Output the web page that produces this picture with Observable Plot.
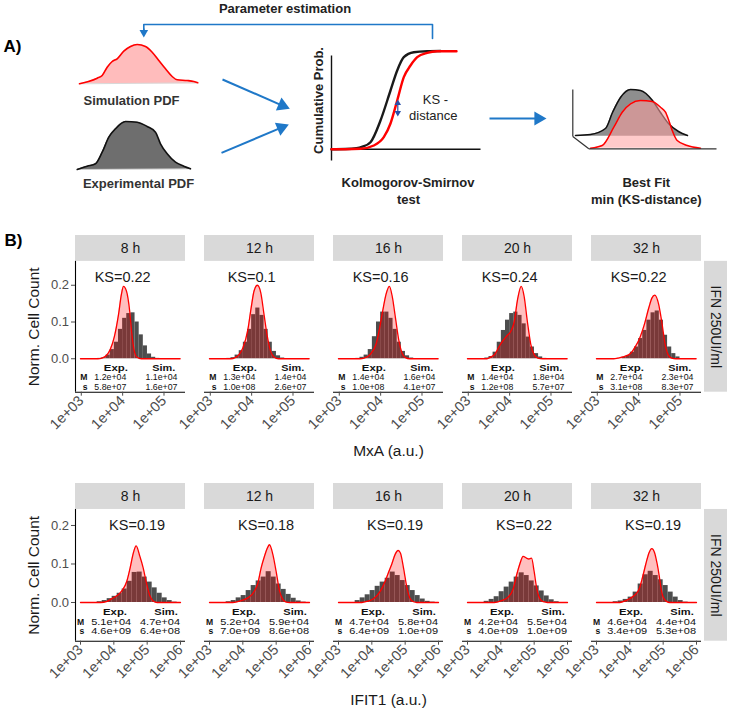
<!DOCTYPE html>
<html><head><meta charset="utf-8">
<script src="https://cdn.jsdelivr.net/npm/d3@7"></script>
<script src="https://cdn.jsdelivr.net/npm/@observablehq/plot@0.6"></script>
<style>
body{margin:0;background:#fff;}
#chart{position:relative;width:732px;height:712px;overflow:hidden;background:#fff;}
#chart > svg{position:absolute;left:0;}
</style></head><body><div id="chart"></div>
<script>
const FONT = '"Liberation Sans", Arial, Helvetica, sans-serif';
const BLUE = "#1f78c8";

// ---------- Panel B data ----------
const times = ["8 h", "12 h", "16 h", "20 h", "32 h"];
const ksMxA = [0.22, 0.1, 0.16, 0.24, 0.22];
const ksIFIT1 = [0.19, 0.18, 0.19, 0.22, 0.19];
const mxaMeanExp = ["1.2e+04", "1.3e+04", "1.4e+04", "1.4e+04", "2.7e+04"];
const mxaMeanSim = ["1.1e+04", "1.4e+04", "1.6e+04", "1.8e+04", "2.3e+04"];
const mxaVarExp = ["5.8e+07", "1.0e+08", "1.0e+08", "1.2e+08", "3.1e+08"];
const mxaVarSim = ["1.6e+07", "2.6e+07", "4.1e+07", "5.7e+07", "8.3e+07"];
const ifitMeanExp = ["5.1e+04", "5.2e+04", "4.7e+04", "4.2e+04", "4.6e+04"];
const ifitMeanSim = ["4.7e+04", "5.9e+04", "5.8e+04", "5.5e+04", "4.4e+04"];
const ifitVarExp = ["4.6e+09", "7.0e+09", "6.4e+09", "4.0e+09", "3.4e+09"];
const ifitVarSim = ["6.4e+08", "8.6e+08", "1.0e+09", "1.0e+09", "5.3e+08"];
const mxaTicks = [1e3, 1e4, 1e5];
const ifitTicks = [1e3, 1e4, 1e5, 1e6];
const yTicks = [0, 0.1, 0.2];

// histogram bin edges (log10 of intensity)
const mxaBinEdges = [3.4,3.5,3.6,3.7,3.8,3.9,4.0,4.1,4.2,4.3,4.4,4.5,4.6,4.7,4.8,4.9,5.0];
const ifitBinEdges = [3.5,3.65,3.8,3.95,4.1,4.25,4.4,4.55,4.7,4.85,5.0,5.15,5.3,5.45,5.6,5.75,5.9];

// experimental histograms (normalized counts), one array per time point
const mxaExpHist = [
  [0.001,0.003,0.01,0.025,0.045,0.08,0.11,0.123,0.125,0.1,0.065,0.035,0.013,0.004,0.001,0],
  [0.001,0.003,0.01,0.022,0.045,0.08,0.12,0.138,0.118,0.08,0.045,0.02,0.008,0.002,0,0],
  [0.001,0.004,0.01,0.025,0.06,0.1,0.127,0.127,0.11,0.08,0.045,0.02,0.008,0.002,0,0],
  [0.002,0.006,0.018,0.045,0.077,0.105,0.123,0.127,0.118,0.095,0.059,0.032,0.014,0.005,0.001,0],
  [0,0,0.004,0.009,0.018,0.032,0.055,0.077,0.105,0.125,0.13,0.105,0.064,0.032,0.014,0.005]
];
const ifitExpHist = [
  [0.002,0.005,0.01,0.016,0.024,0.035,0.055,0.078,0.079,0.066,0.053,0.038,0.024,0.012,0.005,0.001],
  [0.002,0.005,0.012,0.018,0.031,0.044,0.056,0.066,0.08,0.066,0.048,0.034,0.021,0.011,0.004,0.001],
  [0.005,0.012,0.02,0.031,0.042,0.053,0.063,0.079,0.07,0.057,0.044,0.031,0.018,0.009,0.003,0.001],
  [0.003,0.008,0.015,0.028,0.04,0.053,0.066,0.077,0.07,0.056,0.043,0.03,0.017,0.007,0.002,0],
  [0.002,0.004,0.008,0.014,0.027,0.048,0.072,0.081,0.07,0.059,0.044,0.027,0.014,0.005,0.001,0]
];

// simulated densities: [log10 intensity, density]
const mxaSimDens = [
  [[2.98,0],[3.4,0],[3.5,0.002],[3.6,0.008],[3.7,0.025],[3.8,0.06],[3.9,0.12],[3.97,0.175],[4.02,0.197],[4.09,0.185],[4.17,0.13],[4.22,0.07],[4.28,0.022],[4.35,0.004],[4.45,0],[5.39,0]],
  [[2.98,0],[3.5,0],[3.6,0.003],[3.7,0.012],[3.79,0.03],[3.91,0.08],[3.99,0.14],[4.06,0.185],[4.14,0.2],[4.22,0.18],[4.3,0.12],[4.38,0.06],[4.46,0.02],[4.54,0.005],[4.65,0],[5.39,0]],
  [[2.98,0],[3.5,0],[3.6,0.002],[3.73,0.01],[3.89,0.04],[3.97,0.08],[4.05,0.13],[4.13,0.175],[4.21,0.197],[4.28,0.17],[4.36,0.11],[4.44,0.05],[4.52,0.015],[4.6,0.003],[4.7,0],[5.39,0]],
  [[2.98,0],[3.45,0],[3.55,0.005],[3.65,0.013],[3.73,0.03],[3.83,0.048],[3.93,0.062],[4.03,0.075],[4.11,0.1],[4.19,0.16],[4.28,0.197],[4.35,0.17],[4.43,0.1],[4.51,0.04],[4.59,0.012],[4.68,0.002],[4.8,0],[5.39,0]],
  [[2.98,0],[3.4,0],[3.5,0.002],[3.65,0.006],[3.81,0.015],[3.93,0.035],[4.01,0.052],[4.13,0.09],[4.25,0.14],[4.32,0.165],[4.39,0.173],[4.48,0.15],[4.56,0.1],[4.64,0.04],[4.72,0.01],[4.8,0.002],[4.9,0],[5.39,0]]
];
const ifitSimDens = [
  [[3,0],[3.6,0],[3.8,0.003],[3.94,0.01],[4.1,0.018],[4.24,0.03],[4.39,0.055],[4.49,0.09],[4.59,0.13],[4.67,0.147],[4.78,0.12],[4.88,0.09],[4.98,0.05],[5.08,0.018],[5.18,0.004],[5.3,0],[6,0]],
  [[3,0],[3.7,0],[3.95,0.005],[4.15,0.012],[4.35,0.03],[4.45,0.05],[4.55,0.09],[4.65,0.12],[4.73,0.14],[4.8,0.15],[4.9,0.125],[5,0.08],[5.1,0.03],[5.2,0.008],[5.3,0.001],[5.4,0],[6,0]],
  [[3,0],[3.7,0],[3.86,0.003],[4.05,0.01],[4.26,0.03],[4.4,0.055],[4.5,0.078],[4.6,0.1],[4.7,0.125],[4.79,0.135],[4.86,0.128],[4.95,0.09],[5.05,0.04],[5.15,0.01],[5.25,0.002],[5.35,0],[6,0]],
  [[3,0],[3.8,0],[4.02,0.005],[4.22,0.014],[4.37,0.035],[4.47,0.07],[4.57,0.1],[4.67,0.12],[4.77,0.115],[4.84,0.113],[4.92,0.115],[5,0.08],[5.07,0.04],[5.17,0.01],[5.27,0.002],[5.4,0],[6,0]],
  [[3,0],[3.7,0],[3.88,0.005],[4.13,0.018],[4.28,0.035],[4.38,0.065],[4.48,0.1],[4.58,0.13],[4.66,0.14],[4.74,0.13],[4.82,0.1],[4.88,0.07],[4.93,0.04],[5,0.014],[5.1,0.003],[5.2,0],[6,0]]
];

// ---------- Panel A (schematic) shapes ----------
const simPdfX = [79,88,96.7,101.7,106.7,111.7,116.7,123.3,130,136.7,145,151.7,158.3,165,171.7,176.7,186.7,193.3,197.3];
const simPdfY = [83.3,81,77.7,75,66.7,61,58.3,50.7,46,44,46,51.7,60,68.3,76,79.3,80,81,82.3];
const expPdfX = [76.7,86.7,95,101.7,108.3,115,125,136.7,146.7,155,160,166.7,175,183.3,190];
const expPdfY = [169,165.7,163.3,151.7,136.7,128.3,121,121.7,126,131.7,143.3,153.3,161.7,165.7,168.3];
const cdfExpX = [331,345,356,362,370,380,390,396.7,403.3,413.3,426.7,440];
const cdfExpY = [148.7,148.5,147.8,146.2,141.7,120,90,70,56.7,51.7,50.7,50.5];
const cdfSimX = [331,345,360,373.3,383.3,390,396.7,403.3,410,416.7,426.7,436.7,456];
const cdfSimY = [148.7,148.7,148.3,145,136.7,123,100,76.7,65,56.7,52.3,50.7,50.7];
const fitExpX = [575,590,605,612,620,630,640,652,660,668,678,687];
const fitExpY = [135,134,128,112,97,89,90,100,112,123,131,135];
const fitSimX = [590,601.7,613.3,621.7,630,640,651.7,660,665,668.3,671.7,676.7,686.7,700];
const fitSimY = [147.7,145,126.7,111.7,103.3,100,101,106.7,111.7,120,130,140,145,147.7];
const flowArrows = [
  {x1:222, y1:79, x2:289.3, y2:108.3},
  {x1:221, y1:152.3, x2:288.3, y2:124},
  {x1:489, y1:118, x2:546, y2:118}
];
const feedbackPath = [{x:432, y:38}, {x:432, y:24}, {x:143.3, y:24}, {x:143.3, y:31}];
const feedbackArrow = [{x1:143.3, y1:28, x2:143.3, y2:37}];
const ksArrows = [{x1:397.3, y1:107.5, x2:397.3, y2:99}, {x1:397.3, y1:107.5, x2:397.3, y2:116}];
const cdfAxes = [{x1:331, y1:55, x2:331, y2:160}, {x1:331, y1:148.7, x2:480, y2:148.7}];
const fitAxes = [{x1:572.3, y1:89, x2:572.3, y2:136}, {x1:572.3, y1:136, x2:588.3, y2:148.3}, {x1:588.3, y1:148.3, x2:716, y2:148.3}];
const schemaBold = [
  {x:3, y:46, t:"A)", s:17, a:"start", r:0, c:"#000"},
  {x:284.5, y:8, t:"Parameter estimation", s:13, a:"middle", r:0, c:"#222"},
  {x:131, y:100, t:"Simulation PDF", s:13, a:"middle", r:0, c:"#333"},
  {x:138, y:183, t:"Experimental PDF", s:13, a:"middle", r:0, c:"#333"},
  {x:318, y:100, t:"Cumulative Prob.", s:13, a:"middle", r:-90, c:"#222"},
  {x:407.5, y:182.5, t:"Kolmogorov-Smirnov", s:13, a:"middle", r:0, c:"#222"},
  {x:408, y:199, t:"test", s:13, a:"middle", r:0, c:"#222"},
  {x:645.8, y:182.7, t:"Best Fit", s:13, a:"middle", r:0, c:"#222"},
  {x:645.8, y:199, t:"min (KS-distance)", s:13, a:"middle", r:0, c:"#222"}
];
const schemaPlain = [
  {x:435, y:99.3, t:"KS -"},
  {x:432.8, y:115.5, t:"distance"}
];

// ---------- helpers ----------
function arrowMarks(arrows, color, width, r) {
  const tip = 2 * Math.sqrt(Math.PI * r * r / (3 * Math.sqrt(3)));
  const d = arrows.map(a => {
    const L = Math.hypot(a.x2 - a.x1, a.y2 - a.y1);
    const ux = (a.x2 - a.x1) / L, uy = (a.y2 - a.y1) / L;
    return {x1: a.x1, y1: a.y1, x2: a.x2 - ux * tip, y2: a.y2 - uy * tip,
            hx: a.x2 - ux * tip, hy: a.y2 - uy * tip, rot: Math.atan2(ux, -uy) * 180 / Math.PI};
  });
  return [
    Plot.link(d, {x1: "x1", y1: "y1", x2: "x2", y2: "y2", stroke: color, strokeWidth: width}),
    Plot.dot(d, {x: "hx", y: "hy", symbol: "triangle", r, rotate: "rot", fill: color, stroke: null})
  ];
}
const pts = (X, Y) => X.map((x, i) => ({x, y: Y[i]}));

// ---------- Panel A ----------
const simPdf = pts(simPdfX, simPdfY), expPdf = pts(expPdfX, expPdfY);
const fitExp = pts(fitExpX, fitExpY), fitSim = pts(fitSimX, fitSimY);
const base = (arr) => [{x1: arr[0].x, x2: arr[arr.length - 1].x, y1: arr[0].y, y2: arr[arr.length - 1].y}];

const plotA = Plot.plot({
  width: 732, height: 212, margin: 0,
  x: {domain: [0, 732], range: [0, 732], axis: null},
  y: {domain: [0, 212], range: [0, 212], axis: null},
  style: {fontFamily: FONT, background: "transparent", overflow: "visible"},
  marks: [
    Plot.area(simPdf, {x1: "x", y1: () => simPdf[0].y, y2: "y", fill: "#ffbcbc", curve: "monotone-x"}),
    Plot.link(base(simPdf), {x1: "x1", y1: "y1", x2: "x2", y2: "y2", stroke: "#d8d8d8", strokeWidth: 1}),
    Plot.line(simPdf, {x: "x", y: "y", stroke: "#ff0000", strokeWidth: 1.6, curve: "monotone-x"}),
    Plot.area(expPdf, {x1: "x", y1: () => expPdf[0].y, y2: "y", fill: "#6e6e6e", curve: "monotone-x"}),
    Plot.link(base(expPdf), {x1: "x1", y1: "y1", x2: "x2", y2: "y2", stroke: "#cccccc", strokeWidth: 1}),
    Plot.line(expPdf, {x: "x", y: "y", stroke: "#111", strokeWidth: 1.6, curve: "monotone-x"}),
    Plot.link(cdfAxes, {x1: "x1", y1: "y1", x2: "x2", y2: "y2", stroke: "#111", strokeWidth: 1.4}),
    Plot.line(pts(cdfExpX, cdfExpY), {x: "x", y: "y", stroke: "#1a1a1a", strokeWidth: 2.4, curve: "monotone-x"}),
    Plot.line(pts(cdfSimX, cdfSimY), {x: "x", y: "y", stroke: "#ff0000", strokeWidth: 2.4, curve: "monotone-x"}),
    Plot.area(fitExp, {x1: "x", y1: () => 135.5, y2: "y", fill: "#8e8e8e", curve: "monotone-x"}),
    Plot.link(base(fitExp), {x1: "x1", y1: "y1", x2: "x2", y2: "y2", stroke: "#aaaaaa", strokeWidth: 1}),
    Plot.line(fitExp, {x: "x", y: "y", stroke: "#111", strokeWidth: 1.5, curve: "monotone-x"}),
    Plot.area(fitSim, {x1: "x", y1: () => 147.7, y2: "y", fill: "#ff9f9f", fillOpacity: 0.55, curve: "monotone-x"}),
    Plot.line(fitSim, {x: "x", y: "y", stroke: "#ff0000", strokeWidth: 1.5, curve: "monotone-x"}),
    Plot.link(fitAxes, {x1: "x1", y1: "y1", x2: "x2", y2: "y2", stroke: "#333", strokeWidth: 1.2}),
    Plot.line(feedbackPath, {x: "x", y: "y", stroke: BLUE, strokeWidth: 1.6}),
    ...arrowMarks(feedbackArrow, BLUE, 1.6, 3.2),
    ...arrowMarks(flowArrows, BLUE, 2, 5.2),
    ...arrowMarks(ksArrows, "#2a4fa8", 1.2, 2.4),
    Plot.text(schemaBold, {x: "x", y: "y", text: "t", fontSize: d => d.s, textAnchor: "start", fontWeight: "bold", fill: "c", rotate: "r",
      filter: d => d.a === "start"}),
    Plot.text(schemaBold, {x: "x", y: "y", text: "t", fontSize: 13, fontWeight: "bold", fill: "c", rotate: "r",
      filter: d => d.a === "middle"}),
    Plot.text(schemaPlain, {x: "x", y: "y", text: "t", fontSize: 13, fill: "#222"})
  ]
});

// ---------- Panel B rows ----------
function facetRow(cfg) {
  const histData = [];
  times.forEach((t, i) => cfg.hist[i].forEach((h, j) => {
    if (h > 0) histData.push({t, x1: 10 ** cfg.edges[j], x2: 10 ** cfg.edges[j + 1], h});
  }));
  const densData = [];
  times.forEach((t, i) => cfg.dens[i].forEach(([lx, y]) => densData.push({t, x: 10 ** lx, y})));
  const info = times.map((t, i) => ({t, ks: cfg.ks[i], me: cfg.meanExp[i], ms: cfg.meanSim[i], ve: cfg.varExp[i], vs: cfg.varSim[i]}));
  const yDom = cfg.yDom, pTop = cfg.panelTop;
  const yMid = (yDom[0] + pTop) / 2, stripMid = (pTop + yDom[1]) / 2;
  const first = [{t: times[0]}], middle = [{t: times[2]}], last = [{t: times[4]}];
  const T = cfg.tbl, R = cfg.tblRows;
  const C = {textAnchor: "middle", lineAnchor: "middle"};
  const tbl = (row, dx, text, extra) => Plot.text(info, {fx: "t", y: () => R[row], frameAnchor: "left", dx, ...C, text, fontSize: T.f, fill: "#111", ...extra});
  const marks = [
    Plot.rect(info, {fx: "t", y1: () => pTop, y2: () => yDom[1], fill: "#d9d9d9"}),
    Plot.text(info, {fx: "t", y: () => stripMid, text: "t", fontSize: 14, fill: "#1a1a1a"}),
    Plot.rect(last, {fx: "t", y1: () => yDom[0], y2: () => pTop, fill: "#d9d9d9", insetLeft: 113, insetRight: -26}),
    Plot.text(last, {fx: "t", y: () => yMid, frameAnchor: "right", dx: 14, rotate: 90, ...C, text: () => "IFN 250UI/ml", fontSize: 14, fill: "#1a1a1a"}),
    Plot.rect(histData, {fx: "t", x1: "x1", x2: "x2", y1: () => 0, y2: "h", fill: "#4d4d4d"}),
    Plot.area(densData, {fx: "t", x1: "x", y1: () => 0, y2: "y", fill: "red", fillOpacity: 0.25, curve: "monotone-x"}),
    Plot.line(densData, {fx: "t", x: "x", y: "y", stroke: "red", strokeWidth: 1.3, curve: "monotone-x"}),
    Plot.ruleY([yDom[0]], {stroke: "#000", strokeWidth: 1.1}),
    Plot.ruleX(first, {fx: "t", x: () => 10 ** cfg.xLog[0], y1: () => yDom[0], y2: () => pTop, stroke: "#000", strokeWidth: 1.1}),
    Plot.axisY({ticks: yTicks, tickFormat: d3.format(".1f"), tickSize: 4, tickPadding: 2.5, fontSize: 13, label: null, color: "#4d4d4d"}),
    Plot.axisX({ticks: cfg.ticks, tickFormat: d => d3.format(".0e")(d).replace("e+", "e+0"), tickRotate: -45, tickSize: 4, tickPadding: 2, fontSize: 14.5, label: null, color: "#4d4d4d"}),
    Plot.text(info, {fx: "t", x: () => cfg.ksX, y: () => cfg.ksY, text: d => "KS=" + d.ks, fontSize: 14.5, fill: "#1a1a1a"}),
    // Exp./Sim. summary table
    tbl(0, T.eh, () => "Exp.", {fontWeight: "bold"}),
    tbl(0, T.sh, () => "Sim.", {fontWeight: "bold"}),
    tbl(1, T.lab, () => "M", {fontWeight: "bold", textAnchor: "end", fontSize: T.f + 0.4}),
    tbl(2, T.lab, () => "s", {fontWeight: "bold", textAnchor: "end", fontSize: T.f + 0.4}),
    tbl(1, T.ev, "me"),
    tbl(1, T.sv, "ms"),
    tbl(2, T.ev, "ve"),
    tbl(2, T.sv, "vs"),
    Plot.text(first, {fx: "t", y: () => yMid, frameAnchor: "left", dx: -41, rotate: -90, ...C, text: () => "Norm. Cell Count", fontSize: 15.5, fill: "#1a1a1a"}),
    Plot.text(middle, {fx: "t", frameAnchor: "bottom", dy: 59.3, ...C, text: () => cfg.title, fontSize: 15.5, fill: "#1a1a1a"})
  ];
  if (cfg.showB) marks.push(Plot.text(first, {fx: "t", frameAnchor: "top-left", dx: -71, dy: 5, textAnchor: "start", lineAnchor: "middle", text: () => "B)", fontWeight: "bold", fontSize: 17, fill: "#000"}));
  const svg = Plot.plot({
    width: 732, height: cfg.height, marginTop: cfg.mTop, marginBottom: cfg.mBottom, marginLeft: 73, marginRight: 28,
    style: {fontFamily: FONT, fontSize: "13px", background: "transparent", overflow: "visible", color: "#1a1a1a"},
    x: {type: "log", domain: [10 ** cfg.xLog[0], 10 ** cfg.xLog[1]]},
    y: {domain: yDom},
    fx: {domain: times, paddingInner: 0.146, paddingOuter: 0, axis: null},
    marks
  });
  // widen the small table texts to the widths seen in the figure
  svg.querySelectorAll("text").forEach(t => {
    const s = t.textContent.trim();
    let len = null;
    if (/^\d\.\de[+-]\d\d$/.test(s)) len = T.wv;
    else if (s === "Exp.") len = T.we;
    else if (s === "Sim.") len = T.ws;
    if (len) {
      t.setAttribute("textLength", len);
      t.setAttribute("lengthAdjust", "spacingAndGlyphs");
    }
  });
  return svg;
}

const rowMxA = facetRow({
  hist: mxaExpHist, edges: mxaBinEdges, dens: mxaSimDens, ks: ksMxA,
  meanExp: mxaMeanExp, meanSim: mxaMeanSim, varExp: mxaVarExp, varSim: mxaVarSim,
  ticks: mxaTicks, xLog: [2.86, 5.52], yDom: [-0.091, 0.3354], panelTop: 0.265,
  height: 248, mTop: 23, mBottom: 68.3, ksX: 1e4, ksY: 0.222, title: "MxA (a.u.)", showB: true,
  tblRows: [-0.0262, -0.0515, -0.0768],
  tbl: {lab: 12, eh: 40.3, sh: 88.3, ev: 34.8, sv: 86, f: 8.2, wv: 32, we: 24, ws: 23}
});
const rowIFIT = facetRow({
  hist: ifitExpHist, edges: ifitBinEdges, dens: ifitSimDens, ks: ksIFIT1,
  meanExp: ifitMeanExp, meanSim: ifitMeanSim, varExp: ifitVarExp, varSim: ifitVarSim,
  ticks: ifitTicks, xLog: [2.85, 6.15], yDom: [-0.1005, 0.309], panelTop: 0.2416,
  height: 252, mTop: 23, mBottom: 71.3, ksX: 5e4, ksY: 0.2, title: "IFIT1 (a.u.)", showB: false,
  tblRows: [-0.0265, -0.0507, -0.0748],
  tbl: {lab: 8.7, eh: 39.5, sh: 90.5, ev: 35.7, sv: 84.5, f: 8.2, wv: 40, we: 24, ws: 23.5}
});

const chart = document.getElementById("chart");
[[plotA, 0], [rowMxA, 212], [rowIFIT, 460]].forEach(([el, top]) => {
  el.style.position = "absolute";
  el.style.left = "0px";
  el.style.top = top + "px";
  chart.appendChild(el);
});
</script></body></html>
